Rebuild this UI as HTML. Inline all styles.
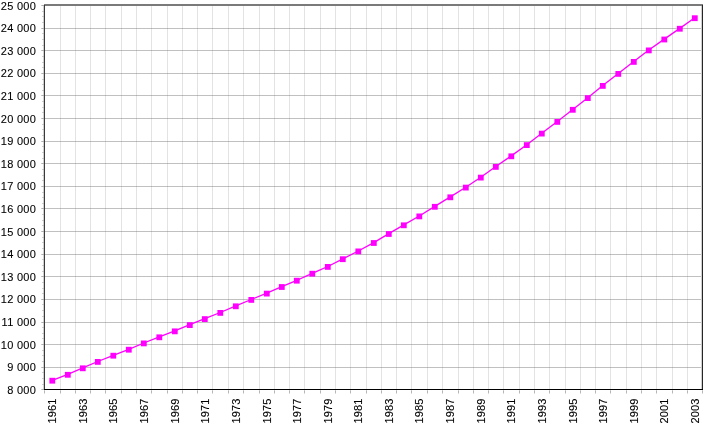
<!DOCTYPE html><html><head><meta charset="utf-8"><style>html,body{margin:0;padding:0;background:#fff;}svg{display:block;}text{font-family:"Liberation Sans",sans-serif;font-size:11px;fill:#000;stroke:#000;stroke-width:0.1px;}</style></head><body>
<svg width="725" height="426" viewBox="0 0 725 426">
<defs><filter id="g" x="0" y="0" width="1" height="1"><feOffset dx="0" dy="0"/></filter></defs>
<g shape-rendering="crispEdges">
<rect x="44" y="367" width="658" height="1" fill="#c0c0c0"/>
<rect x="44" y="344" width="658" height="1" fill="#c0c0c0"/>
<rect x="44" y="322" width="658" height="1" fill="#c0c0c0"/>
<rect x="44" y="299" width="658" height="1" fill="#c0c0c0"/>
<rect x="44" y="276" width="658" height="1" fill="#c0c0c0"/>
<rect x="44" y="254" width="658" height="1" fill="#c0c0c0"/>
<rect x="44" y="231" width="658" height="1" fill="#c0c0c0"/>
<rect x="44" y="208" width="658" height="1" fill="#c0c0c0"/>
<rect x="44" y="186" width="658" height="1" fill="#c0c0c0"/>
<rect x="44" y="163" width="658" height="1" fill="#c0c0c0"/>
<rect x="44" y="141" width="658" height="1" fill="#c0c0c0"/>
<rect x="44" y="118" width="658" height="1" fill="#c0c0c0"/>
<rect x="44" y="95" width="658" height="1" fill="#c0c0c0"/>
<rect x="44" y="73" width="658" height="1" fill="#c0c0c0"/>
<rect x="44" y="50" width="658" height="1" fill="#c0c0c0"/>
<rect x="44" y="28" width="658" height="1" fill="#c0c0c0"/>
<rect x="60" y="5" width="1" height="384" fill="#e3e3e3"/>
<rect x="75" y="5" width="1" height="384" fill="#e3e3e3"/>
<rect x="90" y="5" width="1" height="384" fill="#e3e3e3"/>
<rect x="105" y="5" width="1" height="384" fill="#e3e3e3"/>
<rect x="121" y="5" width="1" height="384" fill="#e3e3e3"/>
<rect x="136" y="5" width="1" height="384" fill="#e3e3e3"/>
<rect x="151" y="5" width="1" height="384" fill="#e3e3e3"/>
<rect x="167" y="5" width="1" height="384" fill="#e3e3e3"/>
<rect x="182" y="5" width="1" height="384" fill="#e3e3e3"/>
<rect x="197" y="5" width="1" height="384" fill="#e3e3e3"/>
<rect x="212" y="5" width="1" height="384" fill="#e3e3e3"/>
<rect x="228" y="5" width="1" height="384" fill="#e3e3e3"/>
<rect x="243" y="5" width="1" height="384" fill="#e3e3e3"/>
<rect x="259" y="5" width="1" height="384" fill="#e3e3e3"/>
<rect x="274" y="5" width="1" height="384" fill="#e3e3e3"/>
<rect x="289" y="5" width="1" height="384" fill="#e3e3e3"/>
<rect x="304" y="5" width="1" height="384" fill="#e3e3e3"/>
<rect x="320" y="5" width="1" height="384" fill="#e3e3e3"/>
<rect x="335" y="5" width="1" height="384" fill="#e3e3e3"/>
<rect x="350" y="5" width="1" height="384" fill="#e3e3e3"/>
<rect x="366" y="5" width="1" height="384" fill="#e3e3e3"/>
<rect x="381" y="5" width="1" height="384" fill="#e3e3e3"/>
<rect x="396" y="5" width="1" height="384" fill="#e3e3e3"/>
<rect x="411" y="5" width="1" height="384" fill="#e3e3e3"/>
<rect x="427" y="5" width="1" height="384" fill="#e3e3e3"/>
<rect x="442" y="5" width="1" height="384" fill="#e3e3e3"/>
<rect x="458" y="5" width="1" height="384" fill="#e3e3e3"/>
<rect x="473" y="5" width="1" height="384" fill="#e3e3e3"/>
<rect x="488" y="5" width="1" height="384" fill="#e3e3e3"/>
<rect x="503" y="5" width="1" height="384" fill="#e3e3e3"/>
<rect x="519" y="5" width="1" height="384" fill="#e3e3e3"/>
<rect x="534" y="5" width="1" height="384" fill="#e3e3e3"/>
<rect x="549" y="5" width="1" height="384" fill="#e3e3e3"/>
<rect x="565" y="5" width="1" height="384" fill="#e3e3e3"/>
<rect x="580" y="5" width="1" height="384" fill="#e3e3e3"/>
<rect x="595" y="5" width="1" height="384" fill="#e3e3e3"/>
<rect x="610" y="5" width="1" height="384" fill="#e3e3e3"/>
<rect x="626" y="5" width="1" height="384" fill="#e3e3e3"/>
<rect x="641" y="5" width="1" height="384" fill="#e3e3e3"/>
<rect x="656" y="5" width="1" height="384" fill="#e3e3e3"/>
<rect x="672" y="5" width="1" height="384" fill="#e3e3e3"/>
<rect x="687" y="5" width="1" height="384" fill="#e3e3e3"/>
<rect x="60" y="367" width="1" height="1" fill="#b0b0b0"/>
<rect x="60" y="344" width="1" height="1" fill="#b0b0b0"/>
<rect x="60" y="322" width="1" height="1" fill="#b0b0b0"/>
<rect x="60" y="299" width="1" height="1" fill="#b0b0b0"/>
<rect x="60" y="276" width="1" height="1" fill="#b0b0b0"/>
<rect x="60" y="254" width="1" height="1" fill="#b0b0b0"/>
<rect x="60" y="231" width="1" height="1" fill="#b0b0b0"/>
<rect x="60" y="208" width="1" height="1" fill="#b0b0b0"/>
<rect x="60" y="186" width="1" height="1" fill="#b0b0b0"/>
<rect x="60" y="163" width="1" height="1" fill="#b0b0b0"/>
<rect x="60" y="141" width="1" height="1" fill="#b0b0b0"/>
<rect x="60" y="118" width="1" height="1" fill="#b0b0b0"/>
<rect x="60" y="95" width="1" height="1" fill="#b0b0b0"/>
<rect x="60" y="73" width="1" height="1" fill="#b0b0b0"/>
<rect x="60" y="50" width="1" height="1" fill="#b0b0b0"/>
<rect x="60" y="28" width="1" height="1" fill="#b0b0b0"/>
<rect x="75" y="367" width="1" height="1" fill="#b0b0b0"/>
<rect x="75" y="344" width="1" height="1" fill="#b0b0b0"/>
<rect x="75" y="322" width="1" height="1" fill="#b0b0b0"/>
<rect x="75" y="299" width="1" height="1" fill="#b0b0b0"/>
<rect x="75" y="276" width="1" height="1" fill="#b0b0b0"/>
<rect x="75" y="254" width="1" height="1" fill="#b0b0b0"/>
<rect x="75" y="231" width="1" height="1" fill="#b0b0b0"/>
<rect x="75" y="208" width="1" height="1" fill="#b0b0b0"/>
<rect x="75" y="186" width="1" height="1" fill="#b0b0b0"/>
<rect x="75" y="163" width="1" height="1" fill="#b0b0b0"/>
<rect x="75" y="141" width="1" height="1" fill="#b0b0b0"/>
<rect x="75" y="118" width="1" height="1" fill="#b0b0b0"/>
<rect x="75" y="95" width="1" height="1" fill="#b0b0b0"/>
<rect x="75" y="73" width="1" height="1" fill="#b0b0b0"/>
<rect x="75" y="50" width="1" height="1" fill="#b0b0b0"/>
<rect x="75" y="28" width="1" height="1" fill="#b0b0b0"/>
<rect x="90" y="367" width="1" height="1" fill="#b0b0b0"/>
<rect x="90" y="344" width="1" height="1" fill="#b0b0b0"/>
<rect x="90" y="322" width="1" height="1" fill="#b0b0b0"/>
<rect x="90" y="299" width="1" height="1" fill="#b0b0b0"/>
<rect x="90" y="276" width="1" height="1" fill="#b0b0b0"/>
<rect x="90" y="254" width="1" height="1" fill="#b0b0b0"/>
<rect x="90" y="231" width="1" height="1" fill="#b0b0b0"/>
<rect x="90" y="208" width="1" height="1" fill="#b0b0b0"/>
<rect x="90" y="186" width="1" height="1" fill="#b0b0b0"/>
<rect x="90" y="163" width="1" height="1" fill="#b0b0b0"/>
<rect x="90" y="141" width="1" height="1" fill="#b0b0b0"/>
<rect x="90" y="118" width="1" height="1" fill="#b0b0b0"/>
<rect x="90" y="95" width="1" height="1" fill="#b0b0b0"/>
<rect x="90" y="73" width="1" height="1" fill="#b0b0b0"/>
<rect x="90" y="50" width="1" height="1" fill="#b0b0b0"/>
<rect x="90" y="28" width="1" height="1" fill="#b0b0b0"/>
<rect x="105" y="367" width="1" height="1" fill="#b0b0b0"/>
<rect x="105" y="344" width="1" height="1" fill="#b0b0b0"/>
<rect x="105" y="322" width="1" height="1" fill="#b0b0b0"/>
<rect x="105" y="299" width="1" height="1" fill="#b0b0b0"/>
<rect x="105" y="276" width="1" height="1" fill="#b0b0b0"/>
<rect x="105" y="254" width="1" height="1" fill="#b0b0b0"/>
<rect x="105" y="231" width="1" height="1" fill="#b0b0b0"/>
<rect x="105" y="208" width="1" height="1" fill="#b0b0b0"/>
<rect x="105" y="186" width="1" height="1" fill="#b0b0b0"/>
<rect x="105" y="163" width="1" height="1" fill="#b0b0b0"/>
<rect x="105" y="141" width="1" height="1" fill="#b0b0b0"/>
<rect x="105" y="118" width="1" height="1" fill="#b0b0b0"/>
<rect x="105" y="95" width="1" height="1" fill="#b0b0b0"/>
<rect x="105" y="73" width="1" height="1" fill="#b0b0b0"/>
<rect x="105" y="50" width="1" height="1" fill="#b0b0b0"/>
<rect x="105" y="28" width="1" height="1" fill="#b0b0b0"/>
<rect x="121" y="367" width="1" height="1" fill="#b0b0b0"/>
<rect x="121" y="344" width="1" height="1" fill="#b0b0b0"/>
<rect x="121" y="322" width="1" height="1" fill="#b0b0b0"/>
<rect x="121" y="299" width="1" height="1" fill="#b0b0b0"/>
<rect x="121" y="276" width="1" height="1" fill="#b0b0b0"/>
<rect x="121" y="254" width="1" height="1" fill="#b0b0b0"/>
<rect x="121" y="231" width="1" height="1" fill="#b0b0b0"/>
<rect x="121" y="208" width="1" height="1" fill="#b0b0b0"/>
<rect x="121" y="186" width="1" height="1" fill="#b0b0b0"/>
<rect x="121" y="163" width="1" height="1" fill="#b0b0b0"/>
<rect x="121" y="141" width="1" height="1" fill="#b0b0b0"/>
<rect x="121" y="118" width="1" height="1" fill="#b0b0b0"/>
<rect x="121" y="95" width="1" height="1" fill="#b0b0b0"/>
<rect x="121" y="73" width="1" height="1" fill="#b0b0b0"/>
<rect x="121" y="50" width="1" height="1" fill="#b0b0b0"/>
<rect x="121" y="28" width="1" height="1" fill="#b0b0b0"/>
<rect x="136" y="367" width="1" height="1" fill="#b0b0b0"/>
<rect x="136" y="344" width="1" height="1" fill="#b0b0b0"/>
<rect x="136" y="322" width="1" height="1" fill="#b0b0b0"/>
<rect x="136" y="299" width="1" height="1" fill="#b0b0b0"/>
<rect x="136" y="276" width="1" height="1" fill="#b0b0b0"/>
<rect x="136" y="254" width="1" height="1" fill="#b0b0b0"/>
<rect x="136" y="231" width="1" height="1" fill="#b0b0b0"/>
<rect x="136" y="208" width="1" height="1" fill="#b0b0b0"/>
<rect x="136" y="186" width="1" height="1" fill="#b0b0b0"/>
<rect x="136" y="163" width="1" height="1" fill="#b0b0b0"/>
<rect x="136" y="141" width="1" height="1" fill="#b0b0b0"/>
<rect x="136" y="118" width="1" height="1" fill="#b0b0b0"/>
<rect x="136" y="95" width="1" height="1" fill="#b0b0b0"/>
<rect x="136" y="73" width="1" height="1" fill="#b0b0b0"/>
<rect x="136" y="50" width="1" height="1" fill="#b0b0b0"/>
<rect x="136" y="28" width="1" height="1" fill="#b0b0b0"/>
<rect x="151" y="367" width="1" height="1" fill="#b0b0b0"/>
<rect x="151" y="344" width="1" height="1" fill="#b0b0b0"/>
<rect x="151" y="322" width="1" height="1" fill="#b0b0b0"/>
<rect x="151" y="299" width="1" height="1" fill="#b0b0b0"/>
<rect x="151" y="276" width="1" height="1" fill="#b0b0b0"/>
<rect x="151" y="254" width="1" height="1" fill="#b0b0b0"/>
<rect x="151" y="231" width="1" height="1" fill="#b0b0b0"/>
<rect x="151" y="208" width="1" height="1" fill="#b0b0b0"/>
<rect x="151" y="186" width="1" height="1" fill="#b0b0b0"/>
<rect x="151" y="163" width="1" height="1" fill="#b0b0b0"/>
<rect x="151" y="141" width="1" height="1" fill="#b0b0b0"/>
<rect x="151" y="118" width="1" height="1" fill="#b0b0b0"/>
<rect x="151" y="95" width="1" height="1" fill="#b0b0b0"/>
<rect x="151" y="73" width="1" height="1" fill="#b0b0b0"/>
<rect x="151" y="50" width="1" height="1" fill="#b0b0b0"/>
<rect x="151" y="28" width="1" height="1" fill="#b0b0b0"/>
<rect x="167" y="367" width="1" height="1" fill="#b0b0b0"/>
<rect x="167" y="344" width="1" height="1" fill="#b0b0b0"/>
<rect x="167" y="322" width="1" height="1" fill="#b0b0b0"/>
<rect x="167" y="299" width="1" height="1" fill="#b0b0b0"/>
<rect x="167" y="276" width="1" height="1" fill="#b0b0b0"/>
<rect x="167" y="254" width="1" height="1" fill="#b0b0b0"/>
<rect x="167" y="231" width="1" height="1" fill="#b0b0b0"/>
<rect x="167" y="208" width="1" height="1" fill="#b0b0b0"/>
<rect x="167" y="186" width="1" height="1" fill="#b0b0b0"/>
<rect x="167" y="163" width="1" height="1" fill="#b0b0b0"/>
<rect x="167" y="141" width="1" height="1" fill="#b0b0b0"/>
<rect x="167" y="118" width="1" height="1" fill="#b0b0b0"/>
<rect x="167" y="95" width="1" height="1" fill="#b0b0b0"/>
<rect x="167" y="73" width="1" height="1" fill="#b0b0b0"/>
<rect x="167" y="50" width="1" height="1" fill="#b0b0b0"/>
<rect x="167" y="28" width="1" height="1" fill="#b0b0b0"/>
<rect x="182" y="367" width="1" height="1" fill="#b0b0b0"/>
<rect x="182" y="344" width="1" height="1" fill="#b0b0b0"/>
<rect x="182" y="322" width="1" height="1" fill="#b0b0b0"/>
<rect x="182" y="299" width="1" height="1" fill="#b0b0b0"/>
<rect x="182" y="276" width="1" height="1" fill="#b0b0b0"/>
<rect x="182" y="254" width="1" height="1" fill="#b0b0b0"/>
<rect x="182" y="231" width="1" height="1" fill="#b0b0b0"/>
<rect x="182" y="208" width="1" height="1" fill="#b0b0b0"/>
<rect x="182" y="186" width="1" height="1" fill="#b0b0b0"/>
<rect x="182" y="163" width="1" height="1" fill="#b0b0b0"/>
<rect x="182" y="141" width="1" height="1" fill="#b0b0b0"/>
<rect x="182" y="118" width="1" height="1" fill="#b0b0b0"/>
<rect x="182" y="95" width="1" height="1" fill="#b0b0b0"/>
<rect x="182" y="73" width="1" height="1" fill="#b0b0b0"/>
<rect x="182" y="50" width="1" height="1" fill="#b0b0b0"/>
<rect x="182" y="28" width="1" height="1" fill="#b0b0b0"/>
<rect x="197" y="367" width="1" height="1" fill="#b0b0b0"/>
<rect x="197" y="344" width="1" height="1" fill="#b0b0b0"/>
<rect x="197" y="322" width="1" height="1" fill="#b0b0b0"/>
<rect x="197" y="299" width="1" height="1" fill="#b0b0b0"/>
<rect x="197" y="276" width="1" height="1" fill="#b0b0b0"/>
<rect x="197" y="254" width="1" height="1" fill="#b0b0b0"/>
<rect x="197" y="231" width="1" height="1" fill="#b0b0b0"/>
<rect x="197" y="208" width="1" height="1" fill="#b0b0b0"/>
<rect x="197" y="186" width="1" height="1" fill="#b0b0b0"/>
<rect x="197" y="163" width="1" height="1" fill="#b0b0b0"/>
<rect x="197" y="141" width="1" height="1" fill="#b0b0b0"/>
<rect x="197" y="118" width="1" height="1" fill="#b0b0b0"/>
<rect x="197" y="95" width="1" height="1" fill="#b0b0b0"/>
<rect x="197" y="73" width="1" height="1" fill="#b0b0b0"/>
<rect x="197" y="50" width="1" height="1" fill="#b0b0b0"/>
<rect x="197" y="28" width="1" height="1" fill="#b0b0b0"/>
<rect x="212" y="367" width="1" height="1" fill="#b0b0b0"/>
<rect x="212" y="344" width="1" height="1" fill="#b0b0b0"/>
<rect x="212" y="322" width="1" height="1" fill="#b0b0b0"/>
<rect x="212" y="299" width="1" height="1" fill="#b0b0b0"/>
<rect x="212" y="276" width="1" height="1" fill="#b0b0b0"/>
<rect x="212" y="254" width="1" height="1" fill="#b0b0b0"/>
<rect x="212" y="231" width="1" height="1" fill="#b0b0b0"/>
<rect x="212" y="208" width="1" height="1" fill="#b0b0b0"/>
<rect x="212" y="186" width="1" height="1" fill="#b0b0b0"/>
<rect x="212" y="163" width="1" height="1" fill="#b0b0b0"/>
<rect x="212" y="141" width="1" height="1" fill="#b0b0b0"/>
<rect x="212" y="118" width="1" height="1" fill="#b0b0b0"/>
<rect x="212" y="95" width="1" height="1" fill="#b0b0b0"/>
<rect x="212" y="73" width="1" height="1" fill="#b0b0b0"/>
<rect x="212" y="50" width="1" height="1" fill="#b0b0b0"/>
<rect x="212" y="28" width="1" height="1" fill="#b0b0b0"/>
<rect x="228" y="367" width="1" height="1" fill="#b0b0b0"/>
<rect x="228" y="344" width="1" height="1" fill="#b0b0b0"/>
<rect x="228" y="322" width="1" height="1" fill="#b0b0b0"/>
<rect x="228" y="299" width="1" height="1" fill="#b0b0b0"/>
<rect x="228" y="276" width="1" height="1" fill="#b0b0b0"/>
<rect x="228" y="254" width="1" height="1" fill="#b0b0b0"/>
<rect x="228" y="231" width="1" height="1" fill="#b0b0b0"/>
<rect x="228" y="208" width="1" height="1" fill="#b0b0b0"/>
<rect x="228" y="186" width="1" height="1" fill="#b0b0b0"/>
<rect x="228" y="163" width="1" height="1" fill="#b0b0b0"/>
<rect x="228" y="141" width="1" height="1" fill="#b0b0b0"/>
<rect x="228" y="118" width="1" height="1" fill="#b0b0b0"/>
<rect x="228" y="95" width="1" height="1" fill="#b0b0b0"/>
<rect x="228" y="73" width="1" height="1" fill="#b0b0b0"/>
<rect x="228" y="50" width="1" height="1" fill="#b0b0b0"/>
<rect x="228" y="28" width="1" height="1" fill="#b0b0b0"/>
<rect x="243" y="367" width="1" height="1" fill="#b0b0b0"/>
<rect x="243" y="344" width="1" height="1" fill="#b0b0b0"/>
<rect x="243" y="322" width="1" height="1" fill="#b0b0b0"/>
<rect x="243" y="299" width="1" height="1" fill="#b0b0b0"/>
<rect x="243" y="276" width="1" height="1" fill="#b0b0b0"/>
<rect x="243" y="254" width="1" height="1" fill="#b0b0b0"/>
<rect x="243" y="231" width="1" height="1" fill="#b0b0b0"/>
<rect x="243" y="208" width="1" height="1" fill="#b0b0b0"/>
<rect x="243" y="186" width="1" height="1" fill="#b0b0b0"/>
<rect x="243" y="163" width="1" height="1" fill="#b0b0b0"/>
<rect x="243" y="141" width="1" height="1" fill="#b0b0b0"/>
<rect x="243" y="118" width="1" height="1" fill="#b0b0b0"/>
<rect x="243" y="95" width="1" height="1" fill="#b0b0b0"/>
<rect x="243" y="73" width="1" height="1" fill="#b0b0b0"/>
<rect x="243" y="50" width="1" height="1" fill="#b0b0b0"/>
<rect x="243" y="28" width="1" height="1" fill="#b0b0b0"/>
<rect x="259" y="367" width="1" height="1" fill="#b0b0b0"/>
<rect x="259" y="344" width="1" height="1" fill="#b0b0b0"/>
<rect x="259" y="322" width="1" height="1" fill="#b0b0b0"/>
<rect x="259" y="299" width="1" height="1" fill="#b0b0b0"/>
<rect x="259" y="276" width="1" height="1" fill="#b0b0b0"/>
<rect x="259" y="254" width="1" height="1" fill="#b0b0b0"/>
<rect x="259" y="231" width="1" height="1" fill="#b0b0b0"/>
<rect x="259" y="208" width="1" height="1" fill="#b0b0b0"/>
<rect x="259" y="186" width="1" height="1" fill="#b0b0b0"/>
<rect x="259" y="163" width="1" height="1" fill="#b0b0b0"/>
<rect x="259" y="141" width="1" height="1" fill="#b0b0b0"/>
<rect x="259" y="118" width="1" height="1" fill="#b0b0b0"/>
<rect x="259" y="95" width="1" height="1" fill="#b0b0b0"/>
<rect x="259" y="73" width="1" height="1" fill="#b0b0b0"/>
<rect x="259" y="50" width="1" height="1" fill="#b0b0b0"/>
<rect x="259" y="28" width="1" height="1" fill="#b0b0b0"/>
<rect x="274" y="367" width="1" height="1" fill="#b0b0b0"/>
<rect x="274" y="344" width="1" height="1" fill="#b0b0b0"/>
<rect x="274" y="322" width="1" height="1" fill="#b0b0b0"/>
<rect x="274" y="299" width="1" height="1" fill="#b0b0b0"/>
<rect x="274" y="276" width="1" height="1" fill="#b0b0b0"/>
<rect x="274" y="254" width="1" height="1" fill="#b0b0b0"/>
<rect x="274" y="231" width="1" height="1" fill="#b0b0b0"/>
<rect x="274" y="208" width="1" height="1" fill="#b0b0b0"/>
<rect x="274" y="186" width="1" height="1" fill="#b0b0b0"/>
<rect x="274" y="163" width="1" height="1" fill="#b0b0b0"/>
<rect x="274" y="141" width="1" height="1" fill="#b0b0b0"/>
<rect x="274" y="118" width="1" height="1" fill="#b0b0b0"/>
<rect x="274" y="95" width="1" height="1" fill="#b0b0b0"/>
<rect x="274" y="73" width="1" height="1" fill="#b0b0b0"/>
<rect x="274" y="50" width="1" height="1" fill="#b0b0b0"/>
<rect x="274" y="28" width="1" height="1" fill="#b0b0b0"/>
<rect x="289" y="367" width="1" height="1" fill="#b0b0b0"/>
<rect x="289" y="344" width="1" height="1" fill="#b0b0b0"/>
<rect x="289" y="322" width="1" height="1" fill="#b0b0b0"/>
<rect x="289" y="299" width="1" height="1" fill="#b0b0b0"/>
<rect x="289" y="276" width="1" height="1" fill="#b0b0b0"/>
<rect x="289" y="254" width="1" height="1" fill="#b0b0b0"/>
<rect x="289" y="231" width="1" height="1" fill="#b0b0b0"/>
<rect x="289" y="208" width="1" height="1" fill="#b0b0b0"/>
<rect x="289" y="186" width="1" height="1" fill="#b0b0b0"/>
<rect x="289" y="163" width="1" height="1" fill="#b0b0b0"/>
<rect x="289" y="141" width="1" height="1" fill="#b0b0b0"/>
<rect x="289" y="118" width="1" height="1" fill="#b0b0b0"/>
<rect x="289" y="95" width="1" height="1" fill="#b0b0b0"/>
<rect x="289" y="73" width="1" height="1" fill="#b0b0b0"/>
<rect x="289" y="50" width="1" height="1" fill="#b0b0b0"/>
<rect x="289" y="28" width="1" height="1" fill="#b0b0b0"/>
<rect x="304" y="367" width="1" height="1" fill="#b0b0b0"/>
<rect x="304" y="344" width="1" height="1" fill="#b0b0b0"/>
<rect x="304" y="322" width="1" height="1" fill="#b0b0b0"/>
<rect x="304" y="299" width="1" height="1" fill="#b0b0b0"/>
<rect x="304" y="276" width="1" height="1" fill="#b0b0b0"/>
<rect x="304" y="254" width="1" height="1" fill="#b0b0b0"/>
<rect x="304" y="231" width="1" height="1" fill="#b0b0b0"/>
<rect x="304" y="208" width="1" height="1" fill="#b0b0b0"/>
<rect x="304" y="186" width="1" height="1" fill="#b0b0b0"/>
<rect x="304" y="163" width="1" height="1" fill="#b0b0b0"/>
<rect x="304" y="141" width="1" height="1" fill="#b0b0b0"/>
<rect x="304" y="118" width="1" height="1" fill="#b0b0b0"/>
<rect x="304" y="95" width="1" height="1" fill="#b0b0b0"/>
<rect x="304" y="73" width="1" height="1" fill="#b0b0b0"/>
<rect x="304" y="50" width="1" height="1" fill="#b0b0b0"/>
<rect x="304" y="28" width="1" height="1" fill="#b0b0b0"/>
<rect x="320" y="367" width="1" height="1" fill="#b0b0b0"/>
<rect x="320" y="344" width="1" height="1" fill="#b0b0b0"/>
<rect x="320" y="322" width="1" height="1" fill="#b0b0b0"/>
<rect x="320" y="299" width="1" height="1" fill="#b0b0b0"/>
<rect x="320" y="276" width="1" height="1" fill="#b0b0b0"/>
<rect x="320" y="254" width="1" height="1" fill="#b0b0b0"/>
<rect x="320" y="231" width="1" height="1" fill="#b0b0b0"/>
<rect x="320" y="208" width="1" height="1" fill="#b0b0b0"/>
<rect x="320" y="186" width="1" height="1" fill="#b0b0b0"/>
<rect x="320" y="163" width="1" height="1" fill="#b0b0b0"/>
<rect x="320" y="141" width="1" height="1" fill="#b0b0b0"/>
<rect x="320" y="118" width="1" height="1" fill="#b0b0b0"/>
<rect x="320" y="95" width="1" height="1" fill="#b0b0b0"/>
<rect x="320" y="73" width="1" height="1" fill="#b0b0b0"/>
<rect x="320" y="50" width="1" height="1" fill="#b0b0b0"/>
<rect x="320" y="28" width="1" height="1" fill="#b0b0b0"/>
<rect x="335" y="367" width="1" height="1" fill="#b0b0b0"/>
<rect x="335" y="344" width="1" height="1" fill="#b0b0b0"/>
<rect x="335" y="322" width="1" height="1" fill="#b0b0b0"/>
<rect x="335" y="299" width="1" height="1" fill="#b0b0b0"/>
<rect x="335" y="276" width="1" height="1" fill="#b0b0b0"/>
<rect x="335" y="254" width="1" height="1" fill="#b0b0b0"/>
<rect x="335" y="231" width="1" height="1" fill="#b0b0b0"/>
<rect x="335" y="208" width="1" height="1" fill="#b0b0b0"/>
<rect x="335" y="186" width="1" height="1" fill="#b0b0b0"/>
<rect x="335" y="163" width="1" height="1" fill="#b0b0b0"/>
<rect x="335" y="141" width="1" height="1" fill="#b0b0b0"/>
<rect x="335" y="118" width="1" height="1" fill="#b0b0b0"/>
<rect x="335" y="95" width="1" height="1" fill="#b0b0b0"/>
<rect x="335" y="73" width="1" height="1" fill="#b0b0b0"/>
<rect x="335" y="50" width="1" height="1" fill="#b0b0b0"/>
<rect x="335" y="28" width="1" height="1" fill="#b0b0b0"/>
<rect x="350" y="367" width="1" height="1" fill="#b0b0b0"/>
<rect x="350" y="344" width="1" height="1" fill="#b0b0b0"/>
<rect x="350" y="322" width="1" height="1" fill="#b0b0b0"/>
<rect x="350" y="299" width="1" height="1" fill="#b0b0b0"/>
<rect x="350" y="276" width="1" height="1" fill="#b0b0b0"/>
<rect x="350" y="254" width="1" height="1" fill="#b0b0b0"/>
<rect x="350" y="231" width="1" height="1" fill="#b0b0b0"/>
<rect x="350" y="208" width="1" height="1" fill="#b0b0b0"/>
<rect x="350" y="186" width="1" height="1" fill="#b0b0b0"/>
<rect x="350" y="163" width="1" height="1" fill="#b0b0b0"/>
<rect x="350" y="141" width="1" height="1" fill="#b0b0b0"/>
<rect x="350" y="118" width="1" height="1" fill="#b0b0b0"/>
<rect x="350" y="95" width="1" height="1" fill="#b0b0b0"/>
<rect x="350" y="73" width="1" height="1" fill="#b0b0b0"/>
<rect x="350" y="50" width="1" height="1" fill="#b0b0b0"/>
<rect x="350" y="28" width="1" height="1" fill="#b0b0b0"/>
<rect x="366" y="367" width="1" height="1" fill="#b0b0b0"/>
<rect x="366" y="344" width="1" height="1" fill="#b0b0b0"/>
<rect x="366" y="322" width="1" height="1" fill="#b0b0b0"/>
<rect x="366" y="299" width="1" height="1" fill="#b0b0b0"/>
<rect x="366" y="276" width="1" height="1" fill="#b0b0b0"/>
<rect x="366" y="254" width="1" height="1" fill="#b0b0b0"/>
<rect x="366" y="231" width="1" height="1" fill="#b0b0b0"/>
<rect x="366" y="208" width="1" height="1" fill="#b0b0b0"/>
<rect x="366" y="186" width="1" height="1" fill="#b0b0b0"/>
<rect x="366" y="163" width="1" height="1" fill="#b0b0b0"/>
<rect x="366" y="141" width="1" height="1" fill="#b0b0b0"/>
<rect x="366" y="118" width="1" height="1" fill="#b0b0b0"/>
<rect x="366" y="95" width="1" height="1" fill="#b0b0b0"/>
<rect x="366" y="73" width="1" height="1" fill="#b0b0b0"/>
<rect x="366" y="50" width="1" height="1" fill="#b0b0b0"/>
<rect x="366" y="28" width="1" height="1" fill="#b0b0b0"/>
<rect x="381" y="367" width="1" height="1" fill="#b0b0b0"/>
<rect x="381" y="344" width="1" height="1" fill="#b0b0b0"/>
<rect x="381" y="322" width="1" height="1" fill="#b0b0b0"/>
<rect x="381" y="299" width="1" height="1" fill="#b0b0b0"/>
<rect x="381" y="276" width="1" height="1" fill="#b0b0b0"/>
<rect x="381" y="254" width="1" height="1" fill="#b0b0b0"/>
<rect x="381" y="231" width="1" height="1" fill="#b0b0b0"/>
<rect x="381" y="208" width="1" height="1" fill="#b0b0b0"/>
<rect x="381" y="186" width="1" height="1" fill="#b0b0b0"/>
<rect x="381" y="163" width="1" height="1" fill="#b0b0b0"/>
<rect x="381" y="141" width="1" height="1" fill="#b0b0b0"/>
<rect x="381" y="118" width="1" height="1" fill="#b0b0b0"/>
<rect x="381" y="95" width="1" height="1" fill="#b0b0b0"/>
<rect x="381" y="73" width="1" height="1" fill="#b0b0b0"/>
<rect x="381" y="50" width="1" height="1" fill="#b0b0b0"/>
<rect x="381" y="28" width="1" height="1" fill="#b0b0b0"/>
<rect x="396" y="367" width="1" height="1" fill="#b0b0b0"/>
<rect x="396" y="344" width="1" height="1" fill="#b0b0b0"/>
<rect x="396" y="322" width="1" height="1" fill="#b0b0b0"/>
<rect x="396" y="299" width="1" height="1" fill="#b0b0b0"/>
<rect x="396" y="276" width="1" height="1" fill="#b0b0b0"/>
<rect x="396" y="254" width="1" height="1" fill="#b0b0b0"/>
<rect x="396" y="231" width="1" height="1" fill="#b0b0b0"/>
<rect x="396" y="208" width="1" height="1" fill="#b0b0b0"/>
<rect x="396" y="186" width="1" height="1" fill="#b0b0b0"/>
<rect x="396" y="163" width="1" height="1" fill="#b0b0b0"/>
<rect x="396" y="141" width="1" height="1" fill="#b0b0b0"/>
<rect x="396" y="118" width="1" height="1" fill="#b0b0b0"/>
<rect x="396" y="95" width="1" height="1" fill="#b0b0b0"/>
<rect x="396" y="73" width="1" height="1" fill="#b0b0b0"/>
<rect x="396" y="50" width="1" height="1" fill="#b0b0b0"/>
<rect x="396" y="28" width="1" height="1" fill="#b0b0b0"/>
<rect x="411" y="367" width="1" height="1" fill="#b0b0b0"/>
<rect x="411" y="344" width="1" height="1" fill="#b0b0b0"/>
<rect x="411" y="322" width="1" height="1" fill="#b0b0b0"/>
<rect x="411" y="299" width="1" height="1" fill="#b0b0b0"/>
<rect x="411" y="276" width="1" height="1" fill="#b0b0b0"/>
<rect x="411" y="254" width="1" height="1" fill="#b0b0b0"/>
<rect x="411" y="231" width="1" height="1" fill="#b0b0b0"/>
<rect x="411" y="208" width="1" height="1" fill="#b0b0b0"/>
<rect x="411" y="186" width="1" height="1" fill="#b0b0b0"/>
<rect x="411" y="163" width="1" height="1" fill="#b0b0b0"/>
<rect x="411" y="141" width="1" height="1" fill="#b0b0b0"/>
<rect x="411" y="118" width="1" height="1" fill="#b0b0b0"/>
<rect x="411" y="95" width="1" height="1" fill="#b0b0b0"/>
<rect x="411" y="73" width="1" height="1" fill="#b0b0b0"/>
<rect x="411" y="50" width="1" height="1" fill="#b0b0b0"/>
<rect x="411" y="28" width="1" height="1" fill="#b0b0b0"/>
<rect x="427" y="367" width="1" height="1" fill="#b0b0b0"/>
<rect x="427" y="344" width="1" height="1" fill="#b0b0b0"/>
<rect x="427" y="322" width="1" height="1" fill="#b0b0b0"/>
<rect x="427" y="299" width="1" height="1" fill="#b0b0b0"/>
<rect x="427" y="276" width="1" height="1" fill="#b0b0b0"/>
<rect x="427" y="254" width="1" height="1" fill="#b0b0b0"/>
<rect x="427" y="231" width="1" height="1" fill="#b0b0b0"/>
<rect x="427" y="208" width="1" height="1" fill="#b0b0b0"/>
<rect x="427" y="186" width="1" height="1" fill="#b0b0b0"/>
<rect x="427" y="163" width="1" height="1" fill="#b0b0b0"/>
<rect x="427" y="141" width="1" height="1" fill="#b0b0b0"/>
<rect x="427" y="118" width="1" height="1" fill="#b0b0b0"/>
<rect x="427" y="95" width="1" height="1" fill="#b0b0b0"/>
<rect x="427" y="73" width="1" height="1" fill="#b0b0b0"/>
<rect x="427" y="50" width="1" height="1" fill="#b0b0b0"/>
<rect x="427" y="28" width="1" height="1" fill="#b0b0b0"/>
<rect x="442" y="367" width="1" height="1" fill="#b0b0b0"/>
<rect x="442" y="344" width="1" height="1" fill="#b0b0b0"/>
<rect x="442" y="322" width="1" height="1" fill="#b0b0b0"/>
<rect x="442" y="299" width="1" height="1" fill="#b0b0b0"/>
<rect x="442" y="276" width="1" height="1" fill="#b0b0b0"/>
<rect x="442" y="254" width="1" height="1" fill="#b0b0b0"/>
<rect x="442" y="231" width="1" height="1" fill="#b0b0b0"/>
<rect x="442" y="208" width="1" height="1" fill="#b0b0b0"/>
<rect x="442" y="186" width="1" height="1" fill="#b0b0b0"/>
<rect x="442" y="163" width="1" height="1" fill="#b0b0b0"/>
<rect x="442" y="141" width="1" height="1" fill="#b0b0b0"/>
<rect x="442" y="118" width="1" height="1" fill="#b0b0b0"/>
<rect x="442" y="95" width="1" height="1" fill="#b0b0b0"/>
<rect x="442" y="73" width="1" height="1" fill="#b0b0b0"/>
<rect x="442" y="50" width="1" height="1" fill="#b0b0b0"/>
<rect x="442" y="28" width="1" height="1" fill="#b0b0b0"/>
<rect x="458" y="367" width="1" height="1" fill="#b0b0b0"/>
<rect x="458" y="344" width="1" height="1" fill="#b0b0b0"/>
<rect x="458" y="322" width="1" height="1" fill="#b0b0b0"/>
<rect x="458" y="299" width="1" height="1" fill="#b0b0b0"/>
<rect x="458" y="276" width="1" height="1" fill="#b0b0b0"/>
<rect x="458" y="254" width="1" height="1" fill="#b0b0b0"/>
<rect x="458" y="231" width="1" height="1" fill="#b0b0b0"/>
<rect x="458" y="208" width="1" height="1" fill="#b0b0b0"/>
<rect x="458" y="186" width="1" height="1" fill="#b0b0b0"/>
<rect x="458" y="163" width="1" height="1" fill="#b0b0b0"/>
<rect x="458" y="141" width="1" height="1" fill="#b0b0b0"/>
<rect x="458" y="118" width="1" height="1" fill="#b0b0b0"/>
<rect x="458" y="95" width="1" height="1" fill="#b0b0b0"/>
<rect x="458" y="73" width="1" height="1" fill="#b0b0b0"/>
<rect x="458" y="50" width="1" height="1" fill="#b0b0b0"/>
<rect x="458" y="28" width="1" height="1" fill="#b0b0b0"/>
<rect x="473" y="367" width="1" height="1" fill="#b0b0b0"/>
<rect x="473" y="344" width="1" height="1" fill="#b0b0b0"/>
<rect x="473" y="322" width="1" height="1" fill="#b0b0b0"/>
<rect x="473" y="299" width="1" height="1" fill="#b0b0b0"/>
<rect x="473" y="276" width="1" height="1" fill="#b0b0b0"/>
<rect x="473" y="254" width="1" height="1" fill="#b0b0b0"/>
<rect x="473" y="231" width="1" height="1" fill="#b0b0b0"/>
<rect x="473" y="208" width="1" height="1" fill="#b0b0b0"/>
<rect x="473" y="186" width="1" height="1" fill="#b0b0b0"/>
<rect x="473" y="163" width="1" height="1" fill="#b0b0b0"/>
<rect x="473" y="141" width="1" height="1" fill="#b0b0b0"/>
<rect x="473" y="118" width="1" height="1" fill="#b0b0b0"/>
<rect x="473" y="95" width="1" height="1" fill="#b0b0b0"/>
<rect x="473" y="73" width="1" height="1" fill="#b0b0b0"/>
<rect x="473" y="50" width="1" height="1" fill="#b0b0b0"/>
<rect x="473" y="28" width="1" height="1" fill="#b0b0b0"/>
<rect x="488" y="367" width="1" height="1" fill="#b0b0b0"/>
<rect x="488" y="344" width="1" height="1" fill="#b0b0b0"/>
<rect x="488" y="322" width="1" height="1" fill="#b0b0b0"/>
<rect x="488" y="299" width="1" height="1" fill="#b0b0b0"/>
<rect x="488" y="276" width="1" height="1" fill="#b0b0b0"/>
<rect x="488" y="254" width="1" height="1" fill="#b0b0b0"/>
<rect x="488" y="231" width="1" height="1" fill="#b0b0b0"/>
<rect x="488" y="208" width="1" height="1" fill="#b0b0b0"/>
<rect x="488" y="186" width="1" height="1" fill="#b0b0b0"/>
<rect x="488" y="163" width="1" height="1" fill="#b0b0b0"/>
<rect x="488" y="141" width="1" height="1" fill="#b0b0b0"/>
<rect x="488" y="118" width="1" height="1" fill="#b0b0b0"/>
<rect x="488" y="95" width="1" height="1" fill="#b0b0b0"/>
<rect x="488" y="73" width="1" height="1" fill="#b0b0b0"/>
<rect x="488" y="50" width="1" height="1" fill="#b0b0b0"/>
<rect x="488" y="28" width="1" height="1" fill="#b0b0b0"/>
<rect x="503" y="367" width="1" height="1" fill="#b0b0b0"/>
<rect x="503" y="344" width="1" height="1" fill="#b0b0b0"/>
<rect x="503" y="322" width="1" height="1" fill="#b0b0b0"/>
<rect x="503" y="299" width="1" height="1" fill="#b0b0b0"/>
<rect x="503" y="276" width="1" height="1" fill="#b0b0b0"/>
<rect x="503" y="254" width="1" height="1" fill="#b0b0b0"/>
<rect x="503" y="231" width="1" height="1" fill="#b0b0b0"/>
<rect x="503" y="208" width="1" height="1" fill="#b0b0b0"/>
<rect x="503" y="186" width="1" height="1" fill="#b0b0b0"/>
<rect x="503" y="163" width="1" height="1" fill="#b0b0b0"/>
<rect x="503" y="141" width="1" height="1" fill="#b0b0b0"/>
<rect x="503" y="118" width="1" height="1" fill="#b0b0b0"/>
<rect x="503" y="95" width="1" height="1" fill="#b0b0b0"/>
<rect x="503" y="73" width="1" height="1" fill="#b0b0b0"/>
<rect x="503" y="50" width="1" height="1" fill="#b0b0b0"/>
<rect x="503" y="28" width="1" height="1" fill="#b0b0b0"/>
<rect x="519" y="367" width="1" height="1" fill="#b0b0b0"/>
<rect x="519" y="344" width="1" height="1" fill="#b0b0b0"/>
<rect x="519" y="322" width="1" height="1" fill="#b0b0b0"/>
<rect x="519" y="299" width="1" height="1" fill="#b0b0b0"/>
<rect x="519" y="276" width="1" height="1" fill="#b0b0b0"/>
<rect x="519" y="254" width="1" height="1" fill="#b0b0b0"/>
<rect x="519" y="231" width="1" height="1" fill="#b0b0b0"/>
<rect x="519" y="208" width="1" height="1" fill="#b0b0b0"/>
<rect x="519" y="186" width="1" height="1" fill="#b0b0b0"/>
<rect x="519" y="163" width="1" height="1" fill="#b0b0b0"/>
<rect x="519" y="141" width="1" height="1" fill="#b0b0b0"/>
<rect x="519" y="118" width="1" height="1" fill="#b0b0b0"/>
<rect x="519" y="95" width="1" height="1" fill="#b0b0b0"/>
<rect x="519" y="73" width="1" height="1" fill="#b0b0b0"/>
<rect x="519" y="50" width="1" height="1" fill="#b0b0b0"/>
<rect x="519" y="28" width="1" height="1" fill="#b0b0b0"/>
<rect x="534" y="367" width="1" height="1" fill="#b0b0b0"/>
<rect x="534" y="344" width="1" height="1" fill="#b0b0b0"/>
<rect x="534" y="322" width="1" height="1" fill="#b0b0b0"/>
<rect x="534" y="299" width="1" height="1" fill="#b0b0b0"/>
<rect x="534" y="276" width="1" height="1" fill="#b0b0b0"/>
<rect x="534" y="254" width="1" height="1" fill="#b0b0b0"/>
<rect x="534" y="231" width="1" height="1" fill="#b0b0b0"/>
<rect x="534" y="208" width="1" height="1" fill="#b0b0b0"/>
<rect x="534" y="186" width="1" height="1" fill="#b0b0b0"/>
<rect x="534" y="163" width="1" height="1" fill="#b0b0b0"/>
<rect x="534" y="141" width="1" height="1" fill="#b0b0b0"/>
<rect x="534" y="118" width="1" height="1" fill="#b0b0b0"/>
<rect x="534" y="95" width="1" height="1" fill="#b0b0b0"/>
<rect x="534" y="73" width="1" height="1" fill="#b0b0b0"/>
<rect x="534" y="50" width="1" height="1" fill="#b0b0b0"/>
<rect x="534" y="28" width="1" height="1" fill="#b0b0b0"/>
<rect x="549" y="367" width="1" height="1" fill="#b0b0b0"/>
<rect x="549" y="344" width="1" height="1" fill="#b0b0b0"/>
<rect x="549" y="322" width="1" height="1" fill="#b0b0b0"/>
<rect x="549" y="299" width="1" height="1" fill="#b0b0b0"/>
<rect x="549" y="276" width="1" height="1" fill="#b0b0b0"/>
<rect x="549" y="254" width="1" height="1" fill="#b0b0b0"/>
<rect x="549" y="231" width="1" height="1" fill="#b0b0b0"/>
<rect x="549" y="208" width="1" height="1" fill="#b0b0b0"/>
<rect x="549" y="186" width="1" height="1" fill="#b0b0b0"/>
<rect x="549" y="163" width="1" height="1" fill="#b0b0b0"/>
<rect x="549" y="141" width="1" height="1" fill="#b0b0b0"/>
<rect x="549" y="118" width="1" height="1" fill="#b0b0b0"/>
<rect x="549" y="95" width="1" height="1" fill="#b0b0b0"/>
<rect x="549" y="73" width="1" height="1" fill="#b0b0b0"/>
<rect x="549" y="50" width="1" height="1" fill="#b0b0b0"/>
<rect x="549" y="28" width="1" height="1" fill="#b0b0b0"/>
<rect x="565" y="367" width="1" height="1" fill="#b0b0b0"/>
<rect x="565" y="344" width="1" height="1" fill="#b0b0b0"/>
<rect x="565" y="322" width="1" height="1" fill="#b0b0b0"/>
<rect x="565" y="299" width="1" height="1" fill="#b0b0b0"/>
<rect x="565" y="276" width="1" height="1" fill="#b0b0b0"/>
<rect x="565" y="254" width="1" height="1" fill="#b0b0b0"/>
<rect x="565" y="231" width="1" height="1" fill="#b0b0b0"/>
<rect x="565" y="208" width="1" height="1" fill="#b0b0b0"/>
<rect x="565" y="186" width="1" height="1" fill="#b0b0b0"/>
<rect x="565" y="163" width="1" height="1" fill="#b0b0b0"/>
<rect x="565" y="141" width="1" height="1" fill="#b0b0b0"/>
<rect x="565" y="118" width="1" height="1" fill="#b0b0b0"/>
<rect x="565" y="95" width="1" height="1" fill="#b0b0b0"/>
<rect x="565" y="73" width="1" height="1" fill="#b0b0b0"/>
<rect x="565" y="50" width="1" height="1" fill="#b0b0b0"/>
<rect x="565" y="28" width="1" height="1" fill="#b0b0b0"/>
<rect x="580" y="367" width="1" height="1" fill="#b0b0b0"/>
<rect x="580" y="344" width="1" height="1" fill="#b0b0b0"/>
<rect x="580" y="322" width="1" height="1" fill="#b0b0b0"/>
<rect x="580" y="299" width="1" height="1" fill="#b0b0b0"/>
<rect x="580" y="276" width="1" height="1" fill="#b0b0b0"/>
<rect x="580" y="254" width="1" height="1" fill="#b0b0b0"/>
<rect x="580" y="231" width="1" height="1" fill="#b0b0b0"/>
<rect x="580" y="208" width="1" height="1" fill="#b0b0b0"/>
<rect x="580" y="186" width="1" height="1" fill="#b0b0b0"/>
<rect x="580" y="163" width="1" height="1" fill="#b0b0b0"/>
<rect x="580" y="141" width="1" height="1" fill="#b0b0b0"/>
<rect x="580" y="118" width="1" height="1" fill="#b0b0b0"/>
<rect x="580" y="95" width="1" height="1" fill="#b0b0b0"/>
<rect x="580" y="73" width="1" height="1" fill="#b0b0b0"/>
<rect x="580" y="50" width="1" height="1" fill="#b0b0b0"/>
<rect x="580" y="28" width="1" height="1" fill="#b0b0b0"/>
<rect x="595" y="367" width="1" height="1" fill="#b0b0b0"/>
<rect x="595" y="344" width="1" height="1" fill="#b0b0b0"/>
<rect x="595" y="322" width="1" height="1" fill="#b0b0b0"/>
<rect x="595" y="299" width="1" height="1" fill="#b0b0b0"/>
<rect x="595" y="276" width="1" height="1" fill="#b0b0b0"/>
<rect x="595" y="254" width="1" height="1" fill="#b0b0b0"/>
<rect x="595" y="231" width="1" height="1" fill="#b0b0b0"/>
<rect x="595" y="208" width="1" height="1" fill="#b0b0b0"/>
<rect x="595" y="186" width="1" height="1" fill="#b0b0b0"/>
<rect x="595" y="163" width="1" height="1" fill="#b0b0b0"/>
<rect x="595" y="141" width="1" height="1" fill="#b0b0b0"/>
<rect x="595" y="118" width="1" height="1" fill="#b0b0b0"/>
<rect x="595" y="95" width="1" height="1" fill="#b0b0b0"/>
<rect x="595" y="73" width="1" height="1" fill="#b0b0b0"/>
<rect x="595" y="50" width="1" height="1" fill="#b0b0b0"/>
<rect x="595" y="28" width="1" height="1" fill="#b0b0b0"/>
<rect x="610" y="367" width="1" height="1" fill="#b0b0b0"/>
<rect x="610" y="344" width="1" height="1" fill="#b0b0b0"/>
<rect x="610" y="322" width="1" height="1" fill="#b0b0b0"/>
<rect x="610" y="299" width="1" height="1" fill="#b0b0b0"/>
<rect x="610" y="276" width="1" height="1" fill="#b0b0b0"/>
<rect x="610" y="254" width="1" height="1" fill="#b0b0b0"/>
<rect x="610" y="231" width="1" height="1" fill="#b0b0b0"/>
<rect x="610" y="208" width="1" height="1" fill="#b0b0b0"/>
<rect x="610" y="186" width="1" height="1" fill="#b0b0b0"/>
<rect x="610" y="163" width="1" height="1" fill="#b0b0b0"/>
<rect x="610" y="141" width="1" height="1" fill="#b0b0b0"/>
<rect x="610" y="118" width="1" height="1" fill="#b0b0b0"/>
<rect x="610" y="95" width="1" height="1" fill="#b0b0b0"/>
<rect x="610" y="73" width="1" height="1" fill="#b0b0b0"/>
<rect x="610" y="50" width="1" height="1" fill="#b0b0b0"/>
<rect x="610" y="28" width="1" height="1" fill="#b0b0b0"/>
<rect x="626" y="367" width="1" height="1" fill="#b0b0b0"/>
<rect x="626" y="344" width="1" height="1" fill="#b0b0b0"/>
<rect x="626" y="322" width="1" height="1" fill="#b0b0b0"/>
<rect x="626" y="299" width="1" height="1" fill="#b0b0b0"/>
<rect x="626" y="276" width="1" height="1" fill="#b0b0b0"/>
<rect x="626" y="254" width="1" height="1" fill="#b0b0b0"/>
<rect x="626" y="231" width="1" height="1" fill="#b0b0b0"/>
<rect x="626" y="208" width="1" height="1" fill="#b0b0b0"/>
<rect x="626" y="186" width="1" height="1" fill="#b0b0b0"/>
<rect x="626" y="163" width="1" height="1" fill="#b0b0b0"/>
<rect x="626" y="141" width="1" height="1" fill="#b0b0b0"/>
<rect x="626" y="118" width="1" height="1" fill="#b0b0b0"/>
<rect x="626" y="95" width="1" height="1" fill="#b0b0b0"/>
<rect x="626" y="73" width="1" height="1" fill="#b0b0b0"/>
<rect x="626" y="50" width="1" height="1" fill="#b0b0b0"/>
<rect x="626" y="28" width="1" height="1" fill="#b0b0b0"/>
<rect x="641" y="367" width="1" height="1" fill="#b0b0b0"/>
<rect x="641" y="344" width="1" height="1" fill="#b0b0b0"/>
<rect x="641" y="322" width="1" height="1" fill="#b0b0b0"/>
<rect x="641" y="299" width="1" height="1" fill="#b0b0b0"/>
<rect x="641" y="276" width="1" height="1" fill="#b0b0b0"/>
<rect x="641" y="254" width="1" height="1" fill="#b0b0b0"/>
<rect x="641" y="231" width="1" height="1" fill="#b0b0b0"/>
<rect x="641" y="208" width="1" height="1" fill="#b0b0b0"/>
<rect x="641" y="186" width="1" height="1" fill="#b0b0b0"/>
<rect x="641" y="163" width="1" height="1" fill="#b0b0b0"/>
<rect x="641" y="141" width="1" height="1" fill="#b0b0b0"/>
<rect x="641" y="118" width="1" height="1" fill="#b0b0b0"/>
<rect x="641" y="95" width="1" height="1" fill="#b0b0b0"/>
<rect x="641" y="73" width="1" height="1" fill="#b0b0b0"/>
<rect x="641" y="50" width="1" height="1" fill="#b0b0b0"/>
<rect x="641" y="28" width="1" height="1" fill="#b0b0b0"/>
<rect x="656" y="367" width="1" height="1" fill="#b0b0b0"/>
<rect x="656" y="344" width="1" height="1" fill="#b0b0b0"/>
<rect x="656" y="322" width="1" height="1" fill="#b0b0b0"/>
<rect x="656" y="299" width="1" height="1" fill="#b0b0b0"/>
<rect x="656" y="276" width="1" height="1" fill="#b0b0b0"/>
<rect x="656" y="254" width="1" height="1" fill="#b0b0b0"/>
<rect x="656" y="231" width="1" height="1" fill="#b0b0b0"/>
<rect x="656" y="208" width="1" height="1" fill="#b0b0b0"/>
<rect x="656" y="186" width="1" height="1" fill="#b0b0b0"/>
<rect x="656" y="163" width="1" height="1" fill="#b0b0b0"/>
<rect x="656" y="141" width="1" height="1" fill="#b0b0b0"/>
<rect x="656" y="118" width="1" height="1" fill="#b0b0b0"/>
<rect x="656" y="95" width="1" height="1" fill="#b0b0b0"/>
<rect x="656" y="73" width="1" height="1" fill="#b0b0b0"/>
<rect x="656" y="50" width="1" height="1" fill="#b0b0b0"/>
<rect x="656" y="28" width="1" height="1" fill="#b0b0b0"/>
<rect x="672" y="367" width="1" height="1" fill="#b0b0b0"/>
<rect x="672" y="344" width="1" height="1" fill="#b0b0b0"/>
<rect x="672" y="322" width="1" height="1" fill="#b0b0b0"/>
<rect x="672" y="299" width="1" height="1" fill="#b0b0b0"/>
<rect x="672" y="276" width="1" height="1" fill="#b0b0b0"/>
<rect x="672" y="254" width="1" height="1" fill="#b0b0b0"/>
<rect x="672" y="231" width="1" height="1" fill="#b0b0b0"/>
<rect x="672" y="208" width="1" height="1" fill="#b0b0b0"/>
<rect x="672" y="186" width="1" height="1" fill="#b0b0b0"/>
<rect x="672" y="163" width="1" height="1" fill="#b0b0b0"/>
<rect x="672" y="141" width="1" height="1" fill="#b0b0b0"/>
<rect x="672" y="118" width="1" height="1" fill="#b0b0b0"/>
<rect x="672" y="95" width="1" height="1" fill="#b0b0b0"/>
<rect x="672" y="73" width="1" height="1" fill="#b0b0b0"/>
<rect x="672" y="50" width="1" height="1" fill="#b0b0b0"/>
<rect x="672" y="28" width="1" height="1" fill="#b0b0b0"/>
<rect x="687" y="367" width="1" height="1" fill="#b0b0b0"/>
<rect x="687" y="344" width="1" height="1" fill="#b0b0b0"/>
<rect x="687" y="322" width="1" height="1" fill="#b0b0b0"/>
<rect x="687" y="299" width="1" height="1" fill="#b0b0b0"/>
<rect x="687" y="276" width="1" height="1" fill="#b0b0b0"/>
<rect x="687" y="254" width="1" height="1" fill="#b0b0b0"/>
<rect x="687" y="231" width="1" height="1" fill="#b0b0b0"/>
<rect x="687" y="208" width="1" height="1" fill="#b0b0b0"/>
<rect x="687" y="186" width="1" height="1" fill="#b0b0b0"/>
<rect x="687" y="163" width="1" height="1" fill="#b0b0b0"/>
<rect x="687" y="141" width="1" height="1" fill="#b0b0b0"/>
<rect x="687" y="118" width="1" height="1" fill="#b0b0b0"/>
<rect x="687" y="95" width="1" height="1" fill="#b0b0b0"/>
<rect x="687" y="73" width="1" height="1" fill="#b0b0b0"/>
<rect x="687" y="50" width="1" height="1" fill="#b0b0b0"/>
<rect x="687" y="28" width="1" height="1" fill="#b0b0b0"/>
<rect x="43" y="6" width="1" height="383" fill="#d0d0d0"/>
<rect x="701" y="6" width="1" height="383" fill="#d0d0d0"/>
<rect x="41" y="389" width="1" height="1" fill="#c8c8c8"/>
<rect x="42" y="389" width="1" height="1" fill="#b0b0b0"/>
<rect x="43" y="389" width="1" height="1" fill="#acacac"/>
<rect x="41" y="367" width="1" height="1" fill="#c8c8c8"/>
<rect x="42" y="367" width="1" height="1" fill="#b0b0b0"/>
<rect x="43" y="367" width="1" height="1" fill="#acacac"/>
<rect x="41" y="344" width="1" height="1" fill="#c8c8c8"/>
<rect x="42" y="344" width="1" height="1" fill="#b0b0b0"/>
<rect x="43" y="344" width="1" height="1" fill="#acacac"/>
<rect x="41" y="322" width="1" height="1" fill="#c8c8c8"/>
<rect x="42" y="322" width="1" height="1" fill="#b0b0b0"/>
<rect x="43" y="322" width="1" height="1" fill="#acacac"/>
<rect x="41" y="299" width="1" height="1" fill="#c8c8c8"/>
<rect x="42" y="299" width="1" height="1" fill="#b0b0b0"/>
<rect x="43" y="299" width="1" height="1" fill="#acacac"/>
<rect x="41" y="276" width="1" height="1" fill="#c8c8c8"/>
<rect x="42" y="276" width="1" height="1" fill="#b0b0b0"/>
<rect x="43" y="276" width="1" height="1" fill="#acacac"/>
<rect x="41" y="254" width="1" height="1" fill="#c8c8c8"/>
<rect x="42" y="254" width="1" height="1" fill="#b0b0b0"/>
<rect x="43" y="254" width="1" height="1" fill="#acacac"/>
<rect x="41" y="231" width="1" height="1" fill="#c8c8c8"/>
<rect x="42" y="231" width="1" height="1" fill="#b0b0b0"/>
<rect x="43" y="231" width="1" height="1" fill="#acacac"/>
<rect x="41" y="208" width="1" height="1" fill="#c8c8c8"/>
<rect x="42" y="208" width="1" height="1" fill="#b0b0b0"/>
<rect x="43" y="208" width="1" height="1" fill="#acacac"/>
<rect x="41" y="186" width="1" height="1" fill="#c8c8c8"/>
<rect x="42" y="186" width="1" height="1" fill="#b0b0b0"/>
<rect x="43" y="186" width="1" height="1" fill="#acacac"/>
<rect x="41" y="163" width="1" height="1" fill="#c8c8c8"/>
<rect x="42" y="163" width="1" height="1" fill="#b0b0b0"/>
<rect x="43" y="163" width="1" height="1" fill="#acacac"/>
<rect x="41" y="141" width="1" height="1" fill="#c8c8c8"/>
<rect x="42" y="141" width="1" height="1" fill="#b0b0b0"/>
<rect x="43" y="141" width="1" height="1" fill="#acacac"/>
<rect x="41" y="118" width="1" height="1" fill="#c8c8c8"/>
<rect x="42" y="118" width="1" height="1" fill="#b0b0b0"/>
<rect x="43" y="118" width="1" height="1" fill="#acacac"/>
<rect x="41" y="95" width="1" height="1" fill="#c8c8c8"/>
<rect x="42" y="95" width="1" height="1" fill="#b0b0b0"/>
<rect x="43" y="95" width="1" height="1" fill="#acacac"/>
<rect x="41" y="73" width="1" height="1" fill="#c8c8c8"/>
<rect x="42" y="73" width="1" height="1" fill="#b0b0b0"/>
<rect x="43" y="73" width="1" height="1" fill="#acacac"/>
<rect x="41" y="50" width="1" height="1" fill="#c8c8c8"/>
<rect x="42" y="50" width="1" height="1" fill="#b0b0b0"/>
<rect x="43" y="50" width="1" height="1" fill="#acacac"/>
<rect x="41" y="28" width="1" height="1" fill="#c8c8c8"/>
<rect x="42" y="28" width="1" height="1" fill="#b0b0b0"/>
<rect x="43" y="28" width="1" height="1" fill="#acacac"/>
<rect x="41" y="5" width="1" height="1" fill="#c8c8c8"/>
<rect x="42" y="5" width="1" height="1" fill="#b0b0b0"/>
<rect x="43" y="5" width="1" height="1" fill="#acacac"/>
<rect x="42" y="384" width="1" height="1" fill="#d0d0d0"/>
<rect x="43" y="384" width="1" height="1" fill="#b8b8b8"/>
<rect x="42" y="378" width="1" height="1" fill="#d0d0d0"/>
<rect x="43" y="378" width="1" height="1" fill="#b8b8b8"/>
<rect x="42" y="372" width="1" height="1" fill="#d0d0d0"/>
<rect x="43" y="372" width="1" height="1" fill="#b8b8b8"/>
<rect x="42" y="361" width="1" height="1" fill="#d0d0d0"/>
<rect x="43" y="361" width="1" height="1" fill="#b8b8b8"/>
<rect x="42" y="355" width="1" height="1" fill="#d0d0d0"/>
<rect x="43" y="355" width="1" height="1" fill="#b8b8b8"/>
<rect x="42" y="350" width="1" height="1" fill="#d0d0d0"/>
<rect x="43" y="350" width="1" height="1" fill="#b8b8b8"/>
<rect x="42" y="338" width="1" height="1" fill="#d0d0d0"/>
<rect x="43" y="338" width="1" height="1" fill="#b8b8b8"/>
<rect x="42" y="333" width="1" height="1" fill="#d0d0d0"/>
<rect x="43" y="333" width="1" height="1" fill="#b8b8b8"/>
<rect x="42" y="327" width="1" height="1" fill="#d0d0d0"/>
<rect x="43" y="327" width="1" height="1" fill="#b8b8b8"/>
<rect x="42" y="316" width="1" height="1" fill="#d0d0d0"/>
<rect x="43" y="316" width="1" height="1" fill="#b8b8b8"/>
<rect x="42" y="310" width="1" height="1" fill="#d0d0d0"/>
<rect x="43" y="310" width="1" height="1" fill="#b8b8b8"/>
<rect x="42" y="304" width="1" height="1" fill="#d0d0d0"/>
<rect x="43" y="304" width="1" height="1" fill="#b8b8b8"/>
<rect x="42" y="293" width="1" height="1" fill="#d0d0d0"/>
<rect x="43" y="293" width="1" height="1" fill="#b8b8b8"/>
<rect x="42" y="288" width="1" height="1" fill="#d0d0d0"/>
<rect x="43" y="288" width="1" height="1" fill="#b8b8b8"/>
<rect x="42" y="282" width="1" height="1" fill="#d0d0d0"/>
<rect x="43" y="282" width="1" height="1" fill="#b8b8b8"/>
<rect x="42" y="271" width="1" height="1" fill="#d0d0d0"/>
<rect x="43" y="271" width="1" height="1" fill="#b8b8b8"/>
<rect x="42" y="265" width="1" height="1" fill="#d0d0d0"/>
<rect x="43" y="265" width="1" height="1" fill="#b8b8b8"/>
<rect x="42" y="259" width="1" height="1" fill="#d0d0d0"/>
<rect x="43" y="259" width="1" height="1" fill="#b8b8b8"/>
<rect x="42" y="248" width="1" height="1" fill="#d0d0d0"/>
<rect x="43" y="248" width="1" height="1" fill="#b8b8b8"/>
<rect x="42" y="242" width="1" height="1" fill="#d0d0d0"/>
<rect x="43" y="242" width="1" height="1" fill="#b8b8b8"/>
<rect x="42" y="237" width="1" height="1" fill="#d0d0d0"/>
<rect x="43" y="237" width="1" height="1" fill="#b8b8b8"/>
<rect x="42" y="225" width="1" height="1" fill="#d0d0d0"/>
<rect x="43" y="225" width="1" height="1" fill="#b8b8b8"/>
<rect x="42" y="220" width="1" height="1" fill="#d0d0d0"/>
<rect x="43" y="220" width="1" height="1" fill="#b8b8b8"/>
<rect x="42" y="214" width="1" height="1" fill="#d0d0d0"/>
<rect x="43" y="214" width="1" height="1" fill="#b8b8b8"/>
<rect x="42" y="203" width="1" height="1" fill="#d0d0d0"/>
<rect x="43" y="203" width="1" height="1" fill="#b8b8b8"/>
<rect x="42" y="197" width="1" height="1" fill="#d0d0d0"/>
<rect x="43" y="197" width="1" height="1" fill="#b8b8b8"/>
<rect x="42" y="192" width="1" height="1" fill="#d0d0d0"/>
<rect x="43" y="192" width="1" height="1" fill="#b8b8b8"/>
<rect x="42" y="180" width="1" height="1" fill="#d0d0d0"/>
<rect x="43" y="180" width="1" height="1" fill="#b8b8b8"/>
<rect x="42" y="175" width="1" height="1" fill="#d0d0d0"/>
<rect x="43" y="175" width="1" height="1" fill="#b8b8b8"/>
<rect x="42" y="169" width="1" height="1" fill="#d0d0d0"/>
<rect x="43" y="169" width="1" height="1" fill="#b8b8b8"/>
<rect x="42" y="158" width="1" height="1" fill="#d0d0d0"/>
<rect x="43" y="158" width="1" height="1" fill="#b8b8b8"/>
<rect x="42" y="152" width="1" height="1" fill="#d0d0d0"/>
<rect x="43" y="152" width="1" height="1" fill="#b8b8b8"/>
<rect x="42" y="146" width="1" height="1" fill="#d0d0d0"/>
<rect x="43" y="146" width="1" height="1" fill="#b8b8b8"/>
<rect x="42" y="135" width="1" height="1" fill="#d0d0d0"/>
<rect x="43" y="135" width="1" height="1" fill="#b8b8b8"/>
<rect x="42" y="129" width="1" height="1" fill="#d0d0d0"/>
<rect x="43" y="129" width="1" height="1" fill="#b8b8b8"/>
<rect x="42" y="124" width="1" height="1" fill="#d0d0d0"/>
<rect x="43" y="124" width="1" height="1" fill="#b8b8b8"/>
<rect x="42" y="112" width="1" height="1" fill="#d0d0d0"/>
<rect x="43" y="112" width="1" height="1" fill="#b8b8b8"/>
<rect x="42" y="107" width="1" height="1" fill="#d0d0d0"/>
<rect x="43" y="107" width="1" height="1" fill="#b8b8b8"/>
<rect x="42" y="101" width="1" height="1" fill="#d0d0d0"/>
<rect x="43" y="101" width="1" height="1" fill="#b8b8b8"/>
<rect x="42" y="90" width="1" height="1" fill="#d0d0d0"/>
<rect x="43" y="90" width="1" height="1" fill="#b8b8b8"/>
<rect x="42" y="84" width="1" height="1" fill="#d0d0d0"/>
<rect x="43" y="84" width="1" height="1" fill="#b8b8b8"/>
<rect x="42" y="79" width="1" height="1" fill="#d0d0d0"/>
<rect x="43" y="79" width="1" height="1" fill="#b8b8b8"/>
<rect x="42" y="67" width="1" height="1" fill="#d0d0d0"/>
<rect x="43" y="67" width="1" height="1" fill="#b8b8b8"/>
<rect x="42" y="62" width="1" height="1" fill="#d0d0d0"/>
<rect x="43" y="62" width="1" height="1" fill="#b8b8b8"/>
<rect x="42" y="56" width="1" height="1" fill="#d0d0d0"/>
<rect x="43" y="56" width="1" height="1" fill="#b8b8b8"/>
<rect x="42" y="45" width="1" height="1" fill="#d0d0d0"/>
<rect x="43" y="45" width="1" height="1" fill="#b8b8b8"/>
<rect x="42" y="39" width="1" height="1" fill="#d0d0d0"/>
<rect x="43" y="39" width="1" height="1" fill="#b8b8b8"/>
<rect x="42" y="33" width="1" height="1" fill="#d0d0d0"/>
<rect x="43" y="33" width="1" height="1" fill="#b8b8b8"/>
<rect x="42" y="22" width="1" height="1" fill="#d0d0d0"/>
<rect x="43" y="22" width="1" height="1" fill="#b8b8b8"/>
<rect x="42" y="16" width="1" height="1" fill="#d0d0d0"/>
<rect x="43" y="16" width="1" height="1" fill="#b8b8b8"/>
<rect x="42" y="11" width="1" height="1" fill="#d0d0d0"/>
<rect x="43" y="11" width="1" height="1" fill="#b8b8b8"/>
<rect x="44" y="390" width="1" height="1" fill="#cccccc"/>
<rect x="44" y="391" width="1" height="1" fill="#b4b4b4"/>
<rect x="44" y="392" width="1" height="1" fill="#b8b8b8"/>
<rect x="44" y="393" width="1" height="1" fill="#dadada"/>
<rect x="60" y="390" width="1" height="1" fill="#cccccc"/>
<rect x="60" y="391" width="1" height="1" fill="#b4b4b4"/>
<rect x="60" y="392" width="1" height="1" fill="#b8b8b8"/>
<rect x="60" y="393" width="1" height="1" fill="#dadada"/>
<rect x="75" y="390" width="1" height="1" fill="#cccccc"/>
<rect x="75" y="391" width="1" height="1" fill="#b4b4b4"/>
<rect x="75" y="392" width="1" height="1" fill="#b8b8b8"/>
<rect x="75" y="393" width="1" height="1" fill="#dadada"/>
<rect x="90" y="390" width="1" height="1" fill="#cccccc"/>
<rect x="90" y="391" width="1" height="1" fill="#b4b4b4"/>
<rect x="90" y="392" width="1" height="1" fill="#b8b8b8"/>
<rect x="90" y="393" width="1" height="1" fill="#dadada"/>
<rect x="105" y="390" width="1" height="1" fill="#cccccc"/>
<rect x="105" y="391" width="1" height="1" fill="#b4b4b4"/>
<rect x="105" y="392" width="1" height="1" fill="#b8b8b8"/>
<rect x="105" y="393" width="1" height="1" fill="#dadada"/>
<rect x="121" y="390" width="1" height="1" fill="#cccccc"/>
<rect x="121" y="391" width="1" height="1" fill="#b4b4b4"/>
<rect x="121" y="392" width="1" height="1" fill="#b8b8b8"/>
<rect x="121" y="393" width="1" height="1" fill="#dadada"/>
<rect x="136" y="390" width="1" height="1" fill="#cccccc"/>
<rect x="136" y="391" width="1" height="1" fill="#b4b4b4"/>
<rect x="136" y="392" width="1" height="1" fill="#b8b8b8"/>
<rect x="136" y="393" width="1" height="1" fill="#dadada"/>
<rect x="151" y="390" width="1" height="1" fill="#cccccc"/>
<rect x="151" y="391" width="1" height="1" fill="#b4b4b4"/>
<rect x="151" y="392" width="1" height="1" fill="#b8b8b8"/>
<rect x="151" y="393" width="1" height="1" fill="#dadada"/>
<rect x="167" y="390" width="1" height="1" fill="#cccccc"/>
<rect x="167" y="391" width="1" height="1" fill="#b4b4b4"/>
<rect x="167" y="392" width="1" height="1" fill="#b8b8b8"/>
<rect x="167" y="393" width="1" height="1" fill="#dadada"/>
<rect x="182" y="390" width="1" height="1" fill="#cccccc"/>
<rect x="182" y="391" width="1" height="1" fill="#b4b4b4"/>
<rect x="182" y="392" width="1" height="1" fill="#b8b8b8"/>
<rect x="182" y="393" width="1" height="1" fill="#dadada"/>
<rect x="197" y="390" width="1" height="1" fill="#cccccc"/>
<rect x="197" y="391" width="1" height="1" fill="#b4b4b4"/>
<rect x="197" y="392" width="1" height="1" fill="#b8b8b8"/>
<rect x="197" y="393" width="1" height="1" fill="#dadada"/>
<rect x="212" y="390" width="1" height="1" fill="#cccccc"/>
<rect x="212" y="391" width="1" height="1" fill="#b4b4b4"/>
<rect x="212" y="392" width="1" height="1" fill="#b8b8b8"/>
<rect x="212" y="393" width="1" height="1" fill="#dadada"/>
<rect x="228" y="390" width="1" height="1" fill="#cccccc"/>
<rect x="228" y="391" width="1" height="1" fill="#b4b4b4"/>
<rect x="228" y="392" width="1" height="1" fill="#b8b8b8"/>
<rect x="228" y="393" width="1" height="1" fill="#dadada"/>
<rect x="243" y="390" width="1" height="1" fill="#cccccc"/>
<rect x="243" y="391" width="1" height="1" fill="#b4b4b4"/>
<rect x="243" y="392" width="1" height="1" fill="#b8b8b8"/>
<rect x="243" y="393" width="1" height="1" fill="#dadada"/>
<rect x="259" y="390" width="1" height="1" fill="#cccccc"/>
<rect x="259" y="391" width="1" height="1" fill="#b4b4b4"/>
<rect x="259" y="392" width="1" height="1" fill="#b8b8b8"/>
<rect x="259" y="393" width="1" height="1" fill="#dadada"/>
<rect x="274" y="390" width="1" height="1" fill="#cccccc"/>
<rect x="274" y="391" width="1" height="1" fill="#b4b4b4"/>
<rect x="274" y="392" width="1" height="1" fill="#b8b8b8"/>
<rect x="274" y="393" width="1" height="1" fill="#dadada"/>
<rect x="289" y="390" width="1" height="1" fill="#cccccc"/>
<rect x="289" y="391" width="1" height="1" fill="#b4b4b4"/>
<rect x="289" y="392" width="1" height="1" fill="#b8b8b8"/>
<rect x="289" y="393" width="1" height="1" fill="#dadada"/>
<rect x="304" y="390" width="1" height="1" fill="#cccccc"/>
<rect x="304" y="391" width="1" height="1" fill="#b4b4b4"/>
<rect x="304" y="392" width="1" height="1" fill="#b8b8b8"/>
<rect x="304" y="393" width="1" height="1" fill="#dadada"/>
<rect x="320" y="390" width="1" height="1" fill="#cccccc"/>
<rect x="320" y="391" width="1" height="1" fill="#b4b4b4"/>
<rect x="320" y="392" width="1" height="1" fill="#b8b8b8"/>
<rect x="320" y="393" width="1" height="1" fill="#dadada"/>
<rect x="335" y="390" width="1" height="1" fill="#cccccc"/>
<rect x="335" y="391" width="1" height="1" fill="#b4b4b4"/>
<rect x="335" y="392" width="1" height="1" fill="#b8b8b8"/>
<rect x="335" y="393" width="1" height="1" fill="#dadada"/>
<rect x="350" y="390" width="1" height="1" fill="#cccccc"/>
<rect x="350" y="391" width="1" height="1" fill="#b4b4b4"/>
<rect x="350" y="392" width="1" height="1" fill="#b8b8b8"/>
<rect x="350" y="393" width="1" height="1" fill="#dadada"/>
<rect x="366" y="390" width="1" height="1" fill="#cccccc"/>
<rect x="366" y="391" width="1" height="1" fill="#b4b4b4"/>
<rect x="366" y="392" width="1" height="1" fill="#b8b8b8"/>
<rect x="366" y="393" width="1" height="1" fill="#dadada"/>
<rect x="381" y="390" width="1" height="1" fill="#cccccc"/>
<rect x="381" y="391" width="1" height="1" fill="#b4b4b4"/>
<rect x="381" y="392" width="1" height="1" fill="#b8b8b8"/>
<rect x="381" y="393" width="1" height="1" fill="#dadada"/>
<rect x="396" y="390" width="1" height="1" fill="#cccccc"/>
<rect x="396" y="391" width="1" height="1" fill="#b4b4b4"/>
<rect x="396" y="392" width="1" height="1" fill="#b8b8b8"/>
<rect x="396" y="393" width="1" height="1" fill="#dadada"/>
<rect x="411" y="390" width="1" height="1" fill="#cccccc"/>
<rect x="411" y="391" width="1" height="1" fill="#b4b4b4"/>
<rect x="411" y="392" width="1" height="1" fill="#b8b8b8"/>
<rect x="411" y="393" width="1" height="1" fill="#dadada"/>
<rect x="427" y="390" width="1" height="1" fill="#cccccc"/>
<rect x="427" y="391" width="1" height="1" fill="#b4b4b4"/>
<rect x="427" y="392" width="1" height="1" fill="#b8b8b8"/>
<rect x="427" y="393" width="1" height="1" fill="#dadada"/>
<rect x="442" y="390" width="1" height="1" fill="#cccccc"/>
<rect x="442" y="391" width="1" height="1" fill="#b4b4b4"/>
<rect x="442" y="392" width="1" height="1" fill="#b8b8b8"/>
<rect x="442" y="393" width="1" height="1" fill="#dadada"/>
<rect x="458" y="390" width="1" height="1" fill="#cccccc"/>
<rect x="458" y="391" width="1" height="1" fill="#b4b4b4"/>
<rect x="458" y="392" width="1" height="1" fill="#b8b8b8"/>
<rect x="458" y="393" width="1" height="1" fill="#dadada"/>
<rect x="473" y="390" width="1" height="1" fill="#cccccc"/>
<rect x="473" y="391" width="1" height="1" fill="#b4b4b4"/>
<rect x="473" y="392" width="1" height="1" fill="#b8b8b8"/>
<rect x="473" y="393" width="1" height="1" fill="#dadada"/>
<rect x="488" y="390" width="1" height="1" fill="#cccccc"/>
<rect x="488" y="391" width="1" height="1" fill="#b4b4b4"/>
<rect x="488" y="392" width="1" height="1" fill="#b8b8b8"/>
<rect x="488" y="393" width="1" height="1" fill="#dadada"/>
<rect x="503" y="390" width="1" height="1" fill="#cccccc"/>
<rect x="503" y="391" width="1" height="1" fill="#b4b4b4"/>
<rect x="503" y="392" width="1" height="1" fill="#b8b8b8"/>
<rect x="503" y="393" width="1" height="1" fill="#dadada"/>
<rect x="519" y="390" width="1" height="1" fill="#cccccc"/>
<rect x="519" y="391" width="1" height="1" fill="#b4b4b4"/>
<rect x="519" y="392" width="1" height="1" fill="#b8b8b8"/>
<rect x="519" y="393" width="1" height="1" fill="#dadada"/>
<rect x="534" y="390" width="1" height="1" fill="#cccccc"/>
<rect x="534" y="391" width="1" height="1" fill="#b4b4b4"/>
<rect x="534" y="392" width="1" height="1" fill="#b8b8b8"/>
<rect x="534" y="393" width="1" height="1" fill="#dadada"/>
<rect x="549" y="390" width="1" height="1" fill="#cccccc"/>
<rect x="549" y="391" width="1" height="1" fill="#b4b4b4"/>
<rect x="549" y="392" width="1" height="1" fill="#b8b8b8"/>
<rect x="549" y="393" width="1" height="1" fill="#dadada"/>
<rect x="565" y="390" width="1" height="1" fill="#cccccc"/>
<rect x="565" y="391" width="1" height="1" fill="#b4b4b4"/>
<rect x="565" y="392" width="1" height="1" fill="#b8b8b8"/>
<rect x="565" y="393" width="1" height="1" fill="#dadada"/>
<rect x="580" y="390" width="1" height="1" fill="#cccccc"/>
<rect x="580" y="391" width="1" height="1" fill="#b4b4b4"/>
<rect x="580" y="392" width="1" height="1" fill="#b8b8b8"/>
<rect x="580" y="393" width="1" height="1" fill="#dadada"/>
<rect x="595" y="390" width="1" height="1" fill="#cccccc"/>
<rect x="595" y="391" width="1" height="1" fill="#b4b4b4"/>
<rect x="595" y="392" width="1" height="1" fill="#b8b8b8"/>
<rect x="595" y="393" width="1" height="1" fill="#dadada"/>
<rect x="610" y="390" width="1" height="1" fill="#cccccc"/>
<rect x="610" y="391" width="1" height="1" fill="#b4b4b4"/>
<rect x="610" y="392" width="1" height="1" fill="#b8b8b8"/>
<rect x="610" y="393" width="1" height="1" fill="#dadada"/>
<rect x="626" y="390" width="1" height="1" fill="#cccccc"/>
<rect x="626" y="391" width="1" height="1" fill="#b4b4b4"/>
<rect x="626" y="392" width="1" height="1" fill="#b8b8b8"/>
<rect x="626" y="393" width="1" height="1" fill="#dadada"/>
<rect x="641" y="390" width="1" height="1" fill="#cccccc"/>
<rect x="641" y="391" width="1" height="1" fill="#b4b4b4"/>
<rect x="641" y="392" width="1" height="1" fill="#b8b8b8"/>
<rect x="641" y="393" width="1" height="1" fill="#dadada"/>
<rect x="656" y="390" width="1" height="1" fill="#cccccc"/>
<rect x="656" y="391" width="1" height="1" fill="#b4b4b4"/>
<rect x="656" y="392" width="1" height="1" fill="#b8b8b8"/>
<rect x="656" y="393" width="1" height="1" fill="#dadada"/>
<rect x="672" y="390" width="1" height="1" fill="#cccccc"/>
<rect x="672" y="391" width="1" height="1" fill="#b4b4b4"/>
<rect x="672" y="392" width="1" height="1" fill="#b8b8b8"/>
<rect x="672" y="393" width="1" height="1" fill="#dadada"/>
<rect x="687" y="390" width="1" height="1" fill="#cccccc"/>
<rect x="687" y="391" width="1" height="1" fill="#b4b4b4"/>
<rect x="687" y="392" width="1" height="1" fill="#b8b8b8"/>
<rect x="687" y="393" width="1" height="1" fill="#dadada"/>
<rect x="702" y="390" width="1" height="1" fill="#cccccc"/>
<rect x="702" y="391" width="1" height="1" fill="#b4b4b4"/>
<rect x="702" y="392" width="1" height="1" fill="#b8b8b8"/>
<rect x="702" y="393" width="1" height="1" fill="#dadada"/>
<rect x="44" y="4" width="659" height="2" fill="#7a7a7a"/>
<rect x="702" y="5" width="1" height="385" fill="#262626"/>
<rect x="44" y="5" width="1" height="385" fill="#3a3a3a"/>
<rect x="44" y="389" width="659" height="1" fill="#000"/>
</g>
<g filter="url(#g)">
<text x="36.2" y="393.70" text-anchor="end" letter-spacing="0.3">8 000</text>
<text x="36.2" y="371.11" text-anchor="end" letter-spacing="0.3">9 000</text>
<text x="36.2" y="348.52" text-anchor="end" letter-spacing="0.3">10 000</text>
<text x="36.2" y="325.94" text-anchor="end" letter-spacing="0.3">11 000</text>
<text x="36.2" y="303.35" text-anchor="end" letter-spacing="0.3">12 000</text>
<text x="36.2" y="280.76" text-anchor="end" letter-spacing="0.3">13 000</text>
<text x="36.2" y="258.17" text-anchor="end" letter-spacing="0.3">14 000</text>
<text x="36.2" y="235.58" text-anchor="end" letter-spacing="0.3">15 000</text>
<text x="36.2" y="212.99" text-anchor="end" letter-spacing="0.3">16 000</text>
<text x="36.2" y="190.41" text-anchor="end" letter-spacing="0.3">17 000</text>
<text x="36.2" y="167.82" text-anchor="end" letter-spacing="0.3">18 000</text>
<text x="36.2" y="145.23" text-anchor="end" letter-spacing="0.3">19 000</text>
<text x="36.2" y="122.64" text-anchor="end" letter-spacing="0.3">20 000</text>
<text x="36.2" y="100.05" text-anchor="end" letter-spacing="0.3">21 000</text>
<text x="36.2" y="77.46" text-anchor="end" letter-spacing="0.3">22 000</text>
<text x="36.2" y="54.88" text-anchor="end" letter-spacing="0.3">23 000</text>
<text x="36.2" y="32.29" text-anchor="end" letter-spacing="0.3">24 000</text>
<text x="36.2" y="9.70" text-anchor="end" letter-spacing="0.3">25 000</text>
<text transform="translate(56.40,398.5) rotate(-90)" text-anchor="end" letter-spacing="0.15">1961</text>
<text transform="translate(86.90,398.5) rotate(-90)" text-anchor="end" letter-spacing="0.15">1963</text>
<text transform="translate(117.40,398.5) rotate(-90)" text-anchor="end" letter-spacing="0.15">1965</text>
<text transform="translate(147.90,398.5) rotate(-90)" text-anchor="end" letter-spacing="0.15">1967</text>
<text transform="translate(178.90,398.5) rotate(-90)" text-anchor="end" letter-spacing="0.15">1969</text>
<text transform="translate(208.90,398.5) rotate(-90)" text-anchor="end" letter-spacing="0.15">1971</text>
<text transform="translate(239.90,398.5) rotate(-90)" text-anchor="end" letter-spacing="0.15">1973</text>
<text transform="translate(270.90,398.5) rotate(-90)" text-anchor="end" letter-spacing="0.15">1975</text>
<text transform="translate(300.90,398.5) rotate(-90)" text-anchor="end" letter-spacing="0.15">1977</text>
<text transform="translate(331.90,398.5) rotate(-90)" text-anchor="end" letter-spacing="0.15">1979</text>
<text transform="translate(362.40,398.5) rotate(-90)" text-anchor="end" letter-spacing="0.15">1981</text>
<text transform="translate(392.90,398.5) rotate(-90)" text-anchor="end" letter-spacing="0.15">1983</text>
<text transform="translate(423.40,398.5) rotate(-90)" text-anchor="end" letter-spacing="0.15">1985</text>
<text transform="translate(454.40,398.5) rotate(-90)" text-anchor="end" letter-spacing="0.15">1987</text>
<text transform="translate(484.90,398.5) rotate(-90)" text-anchor="end" letter-spacing="0.15">1989</text>
<text transform="translate(515.40,398.5) rotate(-90)" text-anchor="end" letter-spacing="0.15">1991</text>
<text transform="translate(545.90,398.5) rotate(-90)" text-anchor="end" letter-spacing="0.15">1993</text>
<text transform="translate(576.90,398.5) rotate(-90)" text-anchor="end" letter-spacing="0.15">1995</text>
<text transform="translate(606.90,398.5) rotate(-90)" text-anchor="end" letter-spacing="0.15">1997</text>
<text transform="translate(637.90,398.5) rotate(-90)" text-anchor="end" letter-spacing="0.15">1999</text>
<text transform="translate(668.40,398.5) rotate(-90)" text-anchor="end" letter-spacing="0.15">2001</text>
<text transform="translate(698.90,398.5) rotate(-90)" text-anchor="end" letter-spacing="0.15">2003</text>
</g>
<polyline points="52.30,380.30 67.80,374.40 82.80,367.90 97.80,361.50 113.30,355.30 128.80,349.30 143.80,343.00 159.30,336.90 174.80,330.95 189.80,324.70 204.80,318.70 220.30,312.50 235.80,305.90 251.30,299.50 266.80,293.20 281.80,286.60 296.80,280.30 312.30,273.30 327.80,266.50 342.80,258.80 358.30,251.00 373.80,242.60 388.80,233.60 403.80,224.90 419.30,216.00 434.80,206.40 450.30,196.90 465.80,187.20 480.80,177.20 495.80,166.50 511.30,155.90 526.80,144.70 541.80,133.20 557.30,121.50 572.80,109.40 587.80,97.70 602.80,85.50 618.30,73.50 633.80,61.50 648.80,50.00 664.30,39.10 679.80,28.35 694.80,17.80" fill="none" stroke="#ff00ff" stroke-width="1.3"/>
<rect x="49.40" y="377.80" width="5.8" height="5.8" fill="#ff00ff"/>
<rect x="64.90" y="371.90" width="5.8" height="5.8" fill="#ff00ff"/>
<rect x="79.90" y="365.40" width="5.8" height="5.8" fill="#ff00ff"/>
<rect x="94.90" y="359.00" width="5.8" height="5.8" fill="#ff00ff"/>
<rect x="110.40" y="352.80" width="5.8" height="5.8" fill="#ff00ff"/>
<rect x="125.90" y="346.80" width="5.8" height="5.8" fill="#ff00ff"/>
<rect x="140.90" y="340.50" width="5.8" height="5.8" fill="#ff00ff"/>
<rect x="156.40" y="334.40" width="5.8" height="5.8" fill="#ff00ff"/>
<rect x="171.90" y="328.45" width="5.8" height="5.8" fill="#ff00ff"/>
<rect x="186.90" y="322.20" width="5.8" height="5.8" fill="#ff00ff"/>
<rect x="201.90" y="316.20" width="5.8" height="5.8" fill="#ff00ff"/>
<rect x="217.40" y="310.00" width="5.8" height="5.8" fill="#ff00ff"/>
<rect x="232.90" y="303.40" width="5.8" height="5.8" fill="#ff00ff"/>
<rect x="248.40" y="297.00" width="5.8" height="5.8" fill="#ff00ff"/>
<rect x="263.90" y="290.70" width="5.8" height="5.8" fill="#ff00ff"/>
<rect x="278.90" y="284.10" width="5.8" height="5.8" fill="#ff00ff"/>
<rect x="293.90" y="277.80" width="5.8" height="5.8" fill="#ff00ff"/>
<rect x="309.40" y="270.80" width="5.8" height="5.8" fill="#ff00ff"/>
<rect x="324.90" y="264.00" width="5.8" height="5.8" fill="#ff00ff"/>
<rect x="339.90" y="256.30" width="5.8" height="5.8" fill="#ff00ff"/>
<rect x="355.40" y="248.50" width="5.8" height="5.8" fill="#ff00ff"/>
<rect x="370.90" y="240.10" width="5.8" height="5.8" fill="#ff00ff"/>
<rect x="385.90" y="231.10" width="5.8" height="5.8" fill="#ff00ff"/>
<rect x="400.90" y="222.40" width="5.8" height="5.8" fill="#ff00ff"/>
<rect x="416.40" y="213.50" width="5.8" height="5.8" fill="#ff00ff"/>
<rect x="431.90" y="203.90" width="5.8" height="5.8" fill="#ff00ff"/>
<rect x="447.40" y="194.40" width="5.8" height="5.8" fill="#ff00ff"/>
<rect x="462.90" y="184.70" width="5.8" height="5.8" fill="#ff00ff"/>
<rect x="477.90" y="174.70" width="5.8" height="5.8" fill="#ff00ff"/>
<rect x="492.90" y="164.00" width="5.8" height="5.8" fill="#ff00ff"/>
<rect x="508.40" y="153.40" width="5.8" height="5.8" fill="#ff00ff"/>
<rect x="523.90" y="142.20" width="5.8" height="5.8" fill="#ff00ff"/>
<rect x="538.90" y="130.70" width="5.8" height="5.8" fill="#ff00ff"/>
<rect x="554.40" y="119.00" width="5.8" height="5.8" fill="#ff00ff"/>
<rect x="569.90" y="106.90" width="5.8" height="5.8" fill="#ff00ff"/>
<rect x="584.90" y="95.20" width="5.8" height="5.8" fill="#ff00ff"/>
<rect x="599.90" y="83.00" width="5.8" height="5.8" fill="#ff00ff"/>
<rect x="615.40" y="71.00" width="5.8" height="5.8" fill="#ff00ff"/>
<rect x="630.90" y="59.00" width="5.8" height="5.8" fill="#ff00ff"/>
<rect x="645.90" y="47.50" width="5.8" height="5.8" fill="#ff00ff"/>
<rect x="661.40" y="36.60" width="5.8" height="5.8" fill="#ff00ff"/>
<rect x="676.90" y="25.85" width="5.8" height="5.8" fill="#ff00ff"/>
<rect x="691.90" y="15.30" width="5.8" height="5.8" fill="#ff00ff"/>
</svg></body></html>
